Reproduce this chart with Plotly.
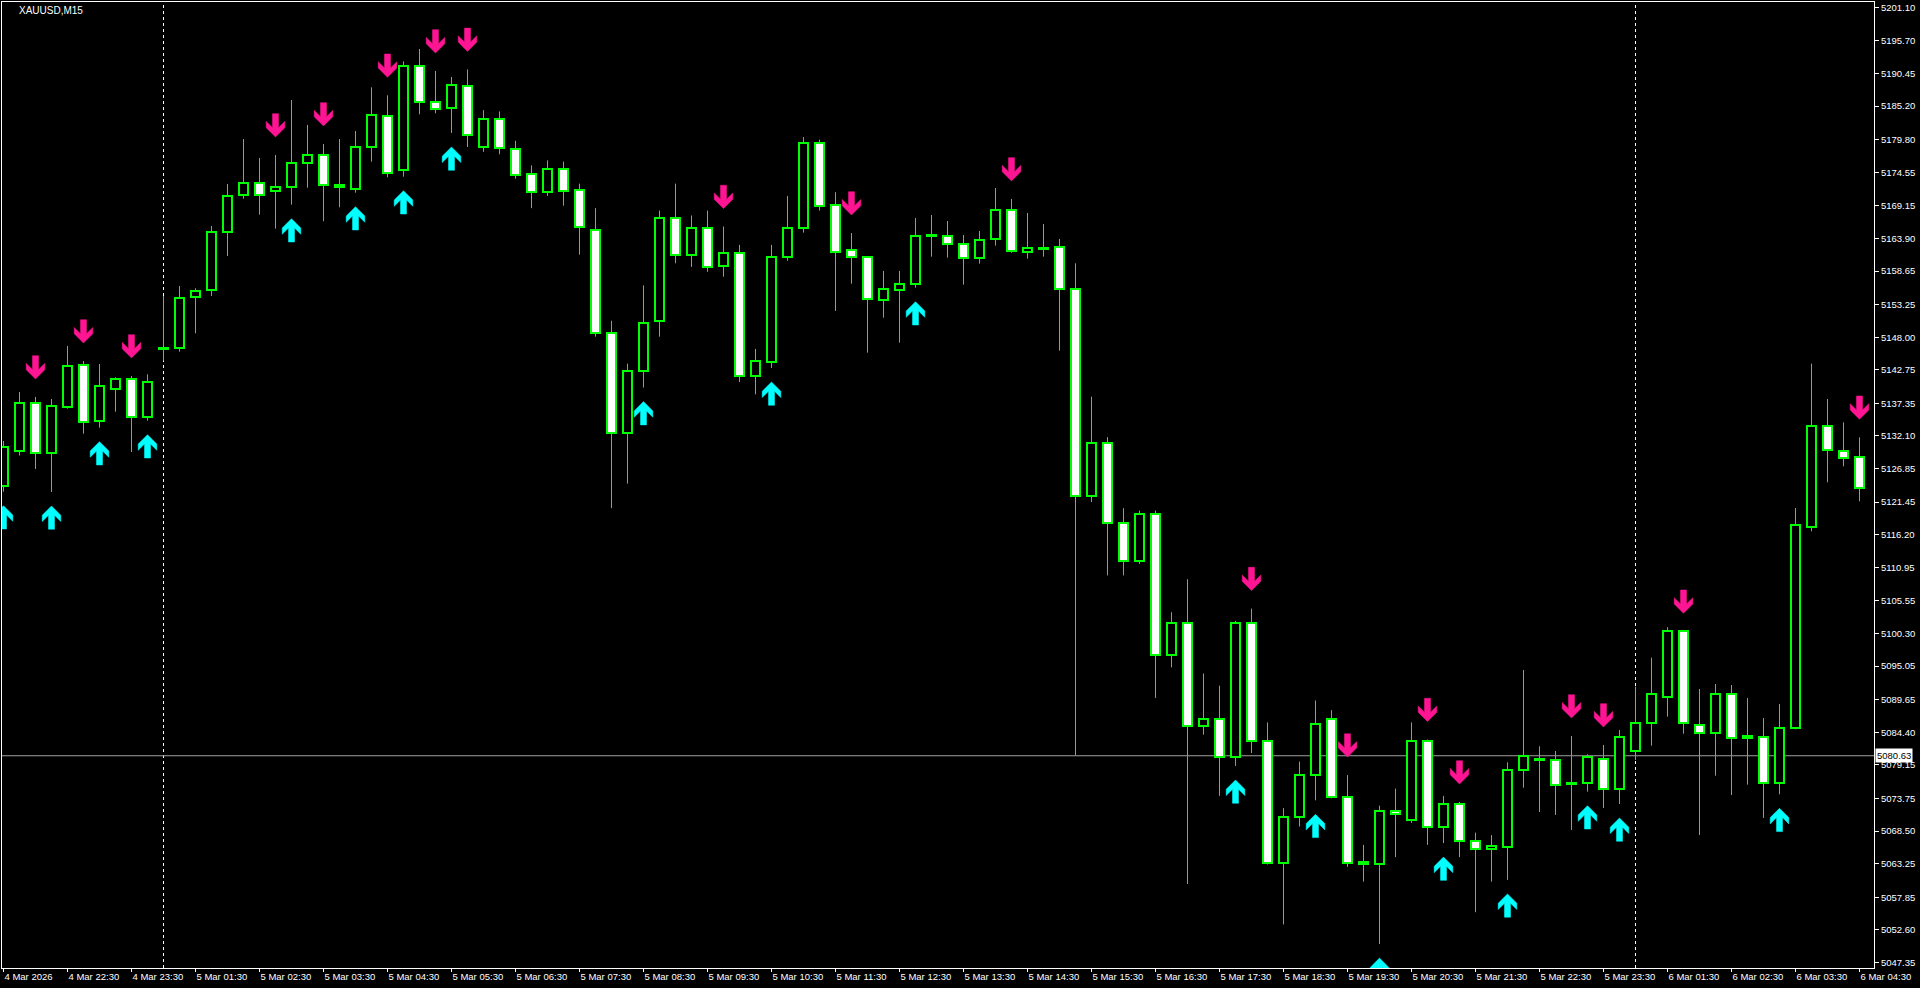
import plotly.graph_objects as go

# ---------------- data (XAUUSD M15) ----------------
opens = [5124.05, 5129.75, 5137.36, 5129.36, 5136.82, 5143.48, 5134.56, 5139.62, 5141.23, 5135.11,
         5146.15, 5146.22, 5154.42, 5155.60, 5164.89, 5170.84, 5172.77, 5171.48, 5172.13, 5175.99,
         5177.28, 5172.45, 5171.81, 5178.57, 5183.56, 5174.96, 5191.60, 5185.81, 5184.84, 5188.48,
         5178.63, 5183.16, 5178.23, 5174.29, 5171.33, 5175.08, 5171.73, 5165.22, 5148.67, 5132.51,
         5142.56, 5150.64, 5167.19, 5161.28, 5165.62, 5159.51, 5161.48, 5141.77, 5143.94, 5160.89,
         5165.62, 5179.22, 5169.28, 5161.99, 5160.86, 5153.94, 5155.55, 5156.52, 5164.24, 5164.24,
         5162.95, 5160.70, 5163.76, 5168.43, 5161.67, 5162.25, 5162.47, 5155.71, 5122.46, 5130.93,
         5118.12, 5112.01, 5119.50, 5096.84, 5101.96, 5085.40, 5086.59, 5080.48, 5101.96, 5083.04,
         5063.33, 5070.82, 5077.52, 5086.59, 5073.97, 5063.53, 5063.13, 5071.81, 5070.23, 5083.04,
         5069.24, 5072.79, 5066.88, 5065.70, 5065.90, 5078.29, 5079.90, 5079.90, 5076.09, 5076.20,
         5080.06, 5075.24, 5081.35, 5085.86, 5090.04, 5100.67, 5085.54, 5084.25, 5090.53, 5083.44,
         5083.60, 5076.20, 5085.05, 5117.40, 5133.66, 5129.64, 5128.67]
highs = [5131.30, 5139.18, 5138.38, 5138.05, 5146.59, 5144.17, 5143.69, 5141.55, 5141.76, 5142.03,
         5154.63, 5156.24, 5155.87, 5165.90, 5172.66, 5179.90, 5176.84, 5177.33, 5186.18, 5182.16,
         5179.10, 5179.90, 5181.19, 5188.22, 5186.94, 5192.41, 5194.39, 5190.85, 5189.88, 5191.10,
         5184.54, 5184.34, 5179.61, 5175.67, 5176.46, 5176.26, 5172.71, 5168.77, 5150.64, 5143.74,
         5156.35, 5168.38, 5172.71, 5167.59, 5168.38, 5165.81, 5162.86, 5146.11, 5162.86, 5170.74,
         5180.20, 5179.81, 5171.33, 5164.77, 5160.90, 5158.66, 5158.66, 5167.19, 5167.67, 5166.70,
         5164.45, 5165.09, 5172.02, 5170.25, 5167.99, 5166.22, 5163.81, 5159.90, 5138.42, 5131.92,
         5120.48, 5120.09, 5120.09, 5103.73, 5109.05, 5093.88, 5091.91, 5102.35, 5104.32, 5086.00,
         5072.20, 5079.69, 5089.54, 5087.97, 5077.52, 5066.29, 5072.59, 5075.35, 5086.00, 5083.24,
         5074.17, 5073.19, 5068.26, 5067.86, 5079.58, 5094.44, 5082.16, 5081.40, 5083.81, 5080.87,
         5082.37, 5084.78, 5091.75, 5096.42, 5101.31, 5100.67, 5091.38, 5092.18, 5092.02, 5089.93,
         5086.71, 5088.96, 5120.51, 5143.74, 5138.05, 5134.30, 5131.89]
lows = [5123.13, 5128.96, 5126.79, 5123.09, 5136.49, 5132.47, 5133.44, 5136.01, 5129.52, 5134.56,
        5144.22, 5145.67, 5148.63, 5154.63, 5161.07, 5170.29, 5167.72, 5165.46, 5169.33, 5172.06,
        5166.66, 5168.91, 5171.26, 5176.25, 5173.74, 5173.83, 5183.88, 5184.04, 5180.87, 5178.61,
        5177.84, 5177.44, 5173.50, 5168.77, 5170.74, 5169.16, 5161.28, 5148.08, 5120.48, 5124.43,
        5139.89, 5148.08, 5159.90, 5159.31, 5158.52, 5157.73, 5140.78, 5138.81, 5143.04, 5160.30,
        5164.83, 5168.38, 5152.22, 5156.61, 5145.51, 5151.14, 5147.12, 5155.97, 5160.96, 5160.80,
        5156.45, 5159.83, 5162.73, 5161.60, 5160.64, 5160.96, 5145.83, 5080.70, 5121.47, 5109.65,
        5109.65, 5111.50, 5089.94, 5094.86, 5059.98, 5084.02, 5074.17, 5078.99, 5081.07, 5063.13,
        5053.48, 5069.24, 5073.46, 5073.78, 5062.74, 5060.37, 5050.32, 5064.32, 5069.83, 5066.29,
        5066.58, 5064.32, 5055.45, 5060.37, 5060.65, 5075.49, 5071.58, 5071.10, 5068.68, 5074.85,
        5072.22, 5072.87, 5079.95, 5082.25, 5086.92, 5084.18, 5067.88, 5077.42, 5074.32, 5075.98,
        5070.62, 5074.43, 5084.89, 5116.76, 5124.65, 5127.22, 5121.59]
closes = [5130.33, 5137.41, 5129.36, 5136.93, 5143.32, 5134.40, 5140.10, 5141.23, 5135.11, 5140.74,
          5146.15, 5154.26, 5155.44, 5164.89, 5170.68, 5172.77, 5170.84, 5172.13, 5175.99, 5177.28,
          5172.45, 5172.13, 5178.57, 5183.72, 5174.48, 5191.60, 5185.81, 5184.68, 5188.55, 5180.59,
          5183.15, 5178.43, 5174.09, 5171.33, 5175.08, 5171.53, 5165.81, 5148.67, 5132.51, 5142.56,
          5150.24, 5167.19, 5161.28, 5165.62, 5159.31, 5161.48, 5141.77, 5144.13, 5160.89, 5165.62,
          5179.22, 5169.16, 5161.76, 5160.86, 5154.10, 5155.71, 5156.52, 5164.24, 5164.24, 5162.95,
          5160.70, 5163.60, 5168.43, 5161.83, 5162.31, 5162.25, 5155.71, 5122.46, 5130.93, 5118.12,
          5112.01, 5119.50, 5096.84, 5101.96, 5085.40, 5086.59, 5080.48, 5101.96, 5083.04, 5063.33,
          5070.82, 5077.52, 5085.80, 5073.97, 5063.33, 5063.13, 5071.81, 5071.22, 5083.04, 5069.24,
          5072.79, 5066.88, 5065.70, 5066.09, 5078.29, 5080.55, 5079.90, 5075.88, 5076.09, 5080.48,
          5075.24, 5083.60, 5085.86, 5090.53, 5100.67, 5085.86, 5084.25, 5090.53, 5083.44, 5083.77,
          5076.20, 5085.05, 5117.73, 5133.66, 5129.80, 5128.51, 5123.68]

sell_arrow_bars = [2, 5, 8, 17, 20, 24, 27, 29, 45, 53, 63, 78, 84, 89, 91, 98, 100, 105, 116]
buy_arrow_bars = [0, 3, 6, 9, 18, 22, 25, 28, 40, 48, 57, 77, 82, 86, 90, 94, 99, 101, 111]
day_start_bars = [10, 102]

x_tick_labels = ["4 Mar 2026", "4 Mar 22:30", "4 Mar 23:30",
                 "5 Mar 01:30", "5 Mar 02:30", "5 Mar 03:30", "5 Mar 04:30", "5 Mar 05:30",
                 "5 Mar 06:30", "5 Mar 07:30", "5 Mar 08:30", "5 Mar 09:30", "5 Mar 10:30",
                 "5 Mar 11:30", "5 Mar 12:30", "5 Mar 13:30", "5 Mar 14:30", "5 Mar 15:30",
                 "5 Mar 16:30", "5 Mar 17:30", "5 Mar 18:30", "5 Mar 19:30", "5 Mar 20:30",
                 "5 Mar 21:30", "5 Mar 22:30", "5 Mar 23:30",
                 "6 Mar 01:30", "6 Mar 02:30", "6 Mar 03:30", "6 Mar 04:30"]
y_tick_labels = ["5201.10", "5195.70", "5190.45", "5185.20", "5179.80", "5174.55", "5169.15",
                 "5163.90", "5158.65", "5153.25", "5148.00", "5142.75", "5137.35", "5132.10",
                 "5126.85", "5121.45", "5116.20", "5110.95", "5105.55", "5100.30", "5095.05",
                 "5089.65", "5084.40", "5079.15", "5073.75", "5068.50", "5063.25", "5057.85",
                 "5052.60", "5047.35"]
current_price = 5080.63
symbol_label = "XAUUSD,M15"

# ---------------- styling / geometry ----------------
W, H = 1920, 988
ML, MR, MT, MB = 2, 46, 2, 20
PX_PER_BAR = 16.0
plot_w = W - ML - MR
plot_h = H - MT - MB
X0 = -0.09375
X1 = X0 + plot_w / PX_PER_BAR
Y0, Y1 = 5046.47, 5201.95
ppp = plot_h / (Y1 - Y0)          # pixels per price unit
ppb = plot_w / (X1 - X0)          # pixels per bar

LIME = "#00FF00"
PINK = "#FF1493"
AQUA = "#00FFFF"
FONT = "Liberation Sans"

n = len(opens)
xs = list(range(n))

# bodies
body_base, body_h, body_fill = [], [], []
min_h = 1.0 / ppp
for o, c in zip(opens, closes):
    body_base.append(min(o, c))
    body_h.append(max(abs(c - o), min_h))
    body_fill.append("#FFFFFF" if c < o else "#000000")

# wicks (upper and lower segments so they never cross the body)
wx, wy = [], []
for i, (o, h, l, c) in enumerate(zip(opens, highs, lows, closes)):
    top, bot = max(o, c), min(o, c)
    if h > top:
        wx += [i, i, None]
        wy += [top, h, None]
    if l < bot:
        wx += [i, i, None]
        wy += [bot, l, None]

# arrow shape (pixels): dx from centre, dy from the shaft end; tip at dy = 23.3
ARROW = [(-3, 0), (3, 0), (3, 14), (9.3, 7.7), (9.3, 14), (0, 23.3),
         (-9.3, 14), (-9.3, 7.7), (-3, 14), (-3, 0)]
AH = 23.3

def arrows(bars, down):
    ax, ay = [], []
    for k in bars:
        if down:
            tip = highs[k] + 18 / ppp
            for dx, dy in ARROW:
                ax.append(k + dx / ppb)
                ay.append(tip + (AH - dy) / ppp)
        else:
            tip = lows[k] - 14 / ppp
            for dx, dy in ARROW:
                ax.append(k + dx / ppb)
                ay.append(tip - (AH - dy) / ppp)
        ax.append(None)
        ay.append(None)
    return ax, ay

sx, sy = arrows(sell_arrow_bars, True)
bx, by = arrows(buy_arrow_bars, False)

fig = go.Figure()
fig.add_trace(go.Bar(x=xs, y=body_h, base=body_base, width=0.56,
                     marker=dict(color=body_fill, line=dict(color=LIME, width=2)),
                     hoverinfo="skip", showlegend=False))
fig.add_trace(go.Scatter(x=wx, y=wy, mode="lines", line=dict(color=LIME, width=1),
                         hoverinfo="skip", showlegend=False))
fig.add_trace(go.Scatter(x=sx, y=sy, mode="lines", fill="toself", fillcolor=PINK,
                         line=dict(color=PINK, width=0.5), hoverinfo="skip", showlegend=False))
fig.add_trace(go.Scatter(x=bx, y=by, mode="lines", fill="toself", fillcolor=AQUA,
                         line=dict(color=AQUA, width=0.5), hoverinfo="skip", showlegend=False))

shapes = []
for d in day_start_bars:
    shapes.append(dict(type="line", xref="x", yref="paper", x0=d, x1=d, y0=0, y1=1,
                       line=dict(color="#FFFFFF", width=1, dash="3px,3px"), layer="below"))
shapes.append(dict(type="line", xref="paper", yref="y", x0=0, x1=1,
                   y0=current_price, y1=current_price,
                   line=dict(color="#A0A0A0", width=1), layer="below"))

annotations = [
    dict(text=symbol_label, xref="paper", yref="paper", x=15 / plot_w, y=1 - 8 / plot_h,
         xanchor="left", yanchor="middle", showarrow=False,
         font=dict(family=FONT, size=10, color="#FFFFFF")),
    dict(text=f"{current_price:.2f}", xref="paper", yref="y", x=1, xshift=1, y=current_price,
         xanchor="left", yanchor="middle", showarrow=False, bgcolor="#FFFFFF", borderpad=1,
         font=dict(family=FONT, size=9.5, color="#000000")),
]

fig.update_layout(
    width=W, height=H,
    margin=dict(l=ML, r=MR, t=MT, b=MB, pad=0),
    paper_bgcolor="#000000", plot_bgcolor="#000000",
    showlegend=False, bargap=0, barmode="overlay",
    shapes=shapes, annotations=annotations,
    xaxis=dict(range=[X0, X1], showgrid=False, zeroline=False,
               tickvals=list(range(0, n, 4)), ticktext=x_tick_labels,
               ticks="outside", ticklen=3, tickcolor="#FFFFFF", tickwidth=1,
               ticklabelposition="outside right",
               tickfont=dict(family=FONT, size=9.5, color="#FFFFFF"),
               showline=True, linecolor="#FFFFFF", linewidth=1, mirror=True),
    yaxis=dict(range=[Y0, Y1], side="right", showgrid=False, zeroline=False,
               tickvals=[float(v) for v in y_tick_labels], ticktext=y_tick_labels,
               ticks="outside", ticklen=4, tickcolor="#FFFFFF", tickwidth=1,
               tickfont=dict(family=FONT, size=9.5, color="#FFFFFF"),
               showline=True, linecolor="#FFFFFF", linewidth=1, mirror=True),
)

fig.write_html("out.html", config={"displayModeBar": False},
               post_script="document.body.style.margin='0';document.body.style.background='#000';")
